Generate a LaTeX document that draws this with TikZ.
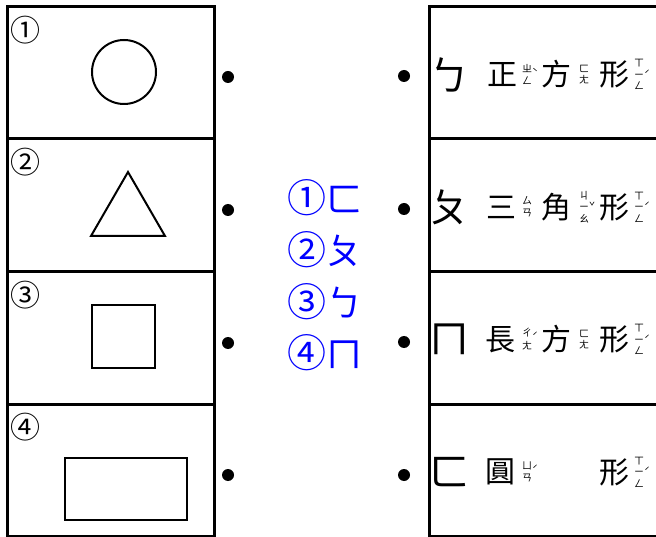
\documentclass[tikz,border=0pt]{standalone}
\usepackage{fontspec}
\newfontfamily\cjk{Noto Sans CJK TC}
\usetikzlibrary{shapes.geometric}
\definecolor{numblue}{RGB}{0,0,255}
\tikzset{
  lbox/.style={draw, line width=3pt, minimum width=207pt, minimum height=132.5pt, inner sep=0pt, anchor=north west},
  rbox/.style={draw, line width=3pt, minimum width=260pt, minimum height=132.5pt, inner sep=0pt, anchor=north west},
  dot/.style={circle, fill=black, minimum size=12pt, inner sep=0pt},
  shp/.style={draw, line width=2pt, inner sep=0pt},
  cnum/.style={inner sep=0pt, font=\cjk\fontsize{30}{30}\selectfont},
  bnum/.style={inner sep=0pt, text=numblue, font=\cjk\fontsize{36}{36}\selectfont},
  big/.style={inner sep=0pt, font=\cjk\fontsize{30}{30}\selectfont},
  bpm/.style={inner sep=0pt, font=\cjk\fontsize{40}{40}\selectfont},
  zy/.style={inner sep=0pt, align=center, font=\cjk\fontsize{10}{11.5}\selectfont},
}
\newcommand\bcirc[1]{{\fontsize{39}{39}\selectfont #1}}
\newcommand\tn[2][0pt]{\rlap{\fontsize{10}{10}\selectfont\raisebox{#1}{#2}}}
\begin{document}
\begin{tikzpicture}[x=1pt,y=-1pt]
\useasboundingbox[fill=white] (0,0) rectangle (656,537);
% left boxes
\node[lbox] (L1) at (6,5) {};
\node[lbox] (L2) at (6,137.5) {};
\node[lbox] (L3) at (6,270) {};
\node[lbox] (L4) at (6,402.5) {};
% right boxes
\node[rbox] (R1) at (427.5,5) {};
\node[rbox] (R2) at (427.5,137.5) {};
\node[rbox] (R3) at (427.5,270) {};
\node[rbox] (R4) at (427.5,402.5) {};
% circled numbers
\node[cnum] (n1) at (25,30) {①};
\node[cnum] (n2) at (25,162.5) {②};
\node[cnum] (n3) at (25,295) {③};
\node[cnum] (n4) at (25,427.5) {④};
% shapes
\node[shp, circle, minimum size=64pt] (circ) at (124,72) {};
\draw[line width=2pt, line join=miter] (128,172) -- (165,236) -- (91,236) -- cycle;
\node[shp, rectangle, minimum size=63pt] (sq) at (123.5,336.5) {};
\node[shp, rectangle, minimum width=122pt, minimum height=62pt] (rect) at (126,489) {};
% bullets
\node[dot] (a1) at (228,77) {};
\node[dot] (a2) at (228,210) {};
\node[dot] (a3) at (228,343) {};
\node[dot] (a4) at (228,475) {};
\node[dot] (b1) at (404,76) {};
\node[dot] (b2) at (404,209) {};
\node[dot] (b3) at (404,342) {};
\node[dot] (b4) at (404,475) {};
% answer key
\node[bnum] (k1) at (324.5,198) {\bcirc{①}ㄈ};
\node[bnum] (k2) at (324.5,250) {\bcirc{②}ㄆ};
\node[bnum] (k3) at (324.5,302) {\bcirc{③}ㄅ};
\node[bnum] (k4) at (324.5,353) {\bcirc{④}ㄇ};
% row 1
\node[bpm] (p1) at (449.5,74.5) {ㄅ};
\node[big] (c11) at (502,74.5) {正};
\node[zy] (z11) at (527,74.5) {ㄓ\tn[-4pt]{ˋ}\\ㄥ};
\node[big] (c12) at (556,74.5) {方};
\node[zy] (z12) at (584,74.5) {ㄈ\\ㄤ};
\node[big] (c13) at (614,74.5) {形};
\node[zy] (z13) at (639,74.5) {ㄒ\\ㄧ\tn{ˊ}\\ㄥ};
% row 2
\node[bpm] (p2) at (449.5,207) {ㄆ};
\node[big] (c21) at (501,207) {三};
\node[zy] (z21) at (527,207) {ㄙ\\ㄢ};
\node[big] (c22) at (556,207) {角};
\node[zy] (z22) at (584,207) {ㄐ\\ㄧ\tn{ˇ}\\ㄠ};
\node[big] (c23) at (614,207) {形};
\node[zy] (z23) at (639,207) {ㄒ\\ㄧ\tn{ˊ}\\ㄥ};
% row 3
\node[bpm] (p3) at (449.5,339.5) {ㄇ};
\node[big] (c31) at (500.5,339.5) {長};
\node[zy] (z31) at (527,339.5) {ㄔ\tn[-4pt]{ˊ}\\ㄤ};
\node[big] (c32) at (556,339.5) {方};
\node[zy] (z32) at (584,339.5) {ㄈ\\ㄤ};
\node[big] (c33) at (614,339.5) {形};
\node[zy] (z33) at (639,339.5) {ㄒ\\ㄧ\tn{ˊ}\\ㄥ};
% row 4
\node[bpm] (p4) at (449.5,472) {ㄈ};
\node[big] (c41) at (500,472) {圓};
\node[zy] (z41) at (527,472) {ㄩ\tn[-4pt]{ˊ}\\ㄢ};
\node[big] (c43) at (614,472) {形};
\node[zy] (z43) at (639,472) {ㄒ\\ㄧ\tn{ˊ}\\ㄥ};
\end{tikzpicture}
\end{document}
